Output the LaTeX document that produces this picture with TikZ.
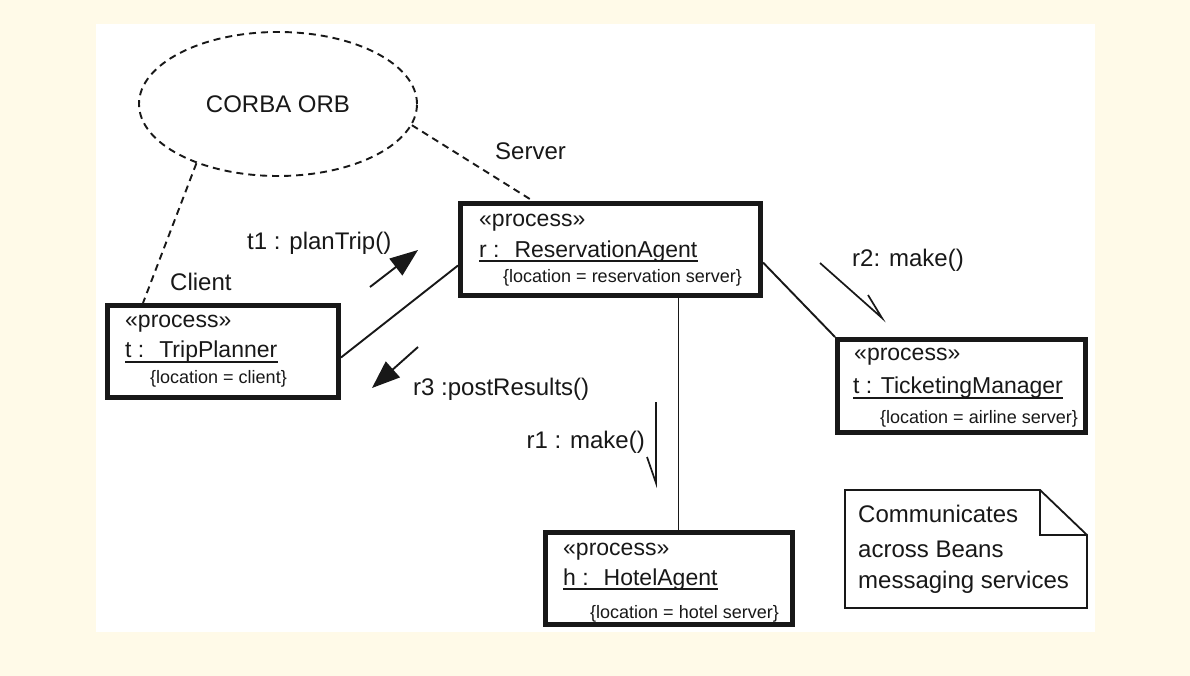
\documentclass[tikz,border=0pt]{standalone}
\usepackage{fontspec}
\setmainfont{Liberation Sans}
\usetikzlibrary{arrows.meta,shapes.geometric}
\definecolor{cream}{RGB}{255,250,232}
\definecolor{ink}{RGB}{24,24,24}
\begin{document}
\begin{tikzpicture}[x=1pt,y=-1pt,
  procbox/.style={draw=ink, line width=5pt, fill=white, inner sep=0pt},
  nametxt/.style={font=\fontsize{23}{27}\selectfont, text=ink, inner sep=0pt},
  smalltxt/.style={font=\fontsize{18}{21}\selectfont, text=ink, inner sep=0pt},
  lbl/.style={font=\fontsize{24}{28}\selectfont, text=ink, inner sep=0pt},
  link/.style={draw=ink, line width=1.9pt},
  uline/.style={draw=ink, line width=1.8pt},
  dashlink/.style={draw=ink, line width=1.9pt, dash pattern=on 7pt off 5pt},
  msgarrow/.style={draw=ink, line width=1.9pt, -{Triangle[length=28pt,width=21pt]}},
  halfarrow/.style={draw=ink, line width=1.7pt, line join=miter},
]
\useasboundingbox (0,0) rectangle (1190,676);
\fill[cream] (0,0) rectangle (1190,676);
\fill[white] (96,24) rectangle (1095,632);

% CORBA ORB
\node[ellipse, dashlink, minimum width=278pt, minimum height=144pt, inner sep=0pt,
      font=\fontsize{24}{28}\selectfont, text=ink] (orb) at (278,104) {CORBA ORB};

% process boxes
\node[procbox, minimum width=231pt, minimum height=92pt] (tp) at (223,351.5) {};
\node[procbox, minimum width=300pt, minimum height=92pt] (ra) at (610.5,249.5) {};
\node[procbox, minimum width=248pt, minimum height=93pt] (tm) at (961.5,386) {};
\node[procbox, minimum width=247pt, minimum height=92pt] (ha) at (669,578.5) {};

% TripPlanner texts
\node[nametxt, anchor=base west] (tpst) at (125,327) {«process»};
\node[nametxt, anchor=base west] (tpnm) at (125,357) {t :~ TripPlanner};
\draw[uline] ([yshift=-5pt]tpnm.base west) -- ([yshift=-5pt]tpnm.base east);
\node[smalltxt, anchor=base west] (tploc) at (150,383) {\{location = client\}};

% ReservationAgent texts
\node[nametxt, anchor=base west] (rast) at (479,227) {«process»};
\node[nametxt, anchor=base west] (ranm) at (479,257) {r :~ ReservationAgent};
\draw[uline] ([yshift=-4pt]ranm.base west) -- ([yshift=-4pt]ranm.base east);
\node[smalltxt, anchor=base west] (raloc) at (503,282) {\{location = reservation server\}};

% TicketingManager texts
\node[nametxt, anchor=base west] (tmst) at (854,360) {«process»};
\node[nametxt, anchor=base west] (tmnm) at (853,393) {t : TicketingManager};
\draw[uline] ([yshift=-5pt]tmnm.base west) -- ([yshift=-5pt]tmnm.base east);
\node[smalltxt, anchor=base west] (tmloc) at (880,423) {\{location = airline server\}};

% HotelAgent texts
\node[nametxt, anchor=base west] (hast) at (563,555) {«process»};
\node[nametxt, anchor=base west] (hanm) at (563,585) {h :~ HotelAgent};
\draw[uline] ([yshift=-4pt]hanm.base west) -- ([yshift=-4pt]hanm.base east);
\node[smalltxt, anchor=base west] (haloc) at (590,618) {\{location = hotel server\}};

% dashed connectors to the ORB
\draw[dashlink] (orb.216) -- ([xshift=38pt]tp.north west);
\draw[dashlink] (orb.-9) -- ([xshift=75pt]ra.north west);
\node[lbl, anchor=base west] (client) at (170,290) {Client};
\node[lbl, anchor=base west] (server) at (495,160) {Server};

% links
\draw[link] ([yshift=-6pt]tp.east) -- ([yshift=-16pt]ra.west);
\draw[link] ([yshift=-13pt]ra.east) -- (tm.north west);
\draw[link] ([xshift=68pt]ra.south) -- ([xshift=68pt]ra.south |- ha.north);

% messages
\coordinate (t1a) at (370,287);
\coordinate (t1b) at (418,250);
\draw[msgarrow] (t1a) -- (t1b);
\node[lbl, anchor=base west] (t1lbl) at (247,250) {t1 : planTrip()};

\coordinate (r3a) at (418,347);
\coordinate (r3b) at (372,388);
\draw[msgarrow] (r3a) -- (r3b);
\node[lbl, anchor=base west] (r3lbl) at (413,395) {r3 :postResults()};

\coordinate (r1a) at (656,402);
\coordinate (r1b) at (656,483);
\coordinate (r1c) at (647,457);
\draw[halfarrow] (r1a) -- (r1b) -- (r1c);
\node[lbl, anchor=base east] (r1lbl) at (645,448) {r1 : make()};

\coordinate (r2a) at (820,263);
\coordinate (r2b) at (882,318);
\coordinate (r2c) at (868,295);
\draw[halfarrow] (r2a) -- (r2b) -- (r2c);
\node[lbl, anchor=base west] (r2lbl) at (852,266) {r2: make()};

% note
\draw[draw=ink, line width=1.8pt, fill=white, line join=miter]
  (845,490) -- (1040,490) -- (1087,535) -- (1087,608) -- (845,608) -- cycle;
\draw[draw=ink, line width=1.8pt] (1040,490) -- (1040,535) -- (1087,535);
\node[lbl, anchor=base west] (note1) at (858,522) {Communicates};
\node[lbl, anchor=base west] (note2) at (858,557) {across Beans};
\node[lbl, anchor=base west] (note3) at (858,588) {messaging services};
\end{tikzpicture}
\end{document}
